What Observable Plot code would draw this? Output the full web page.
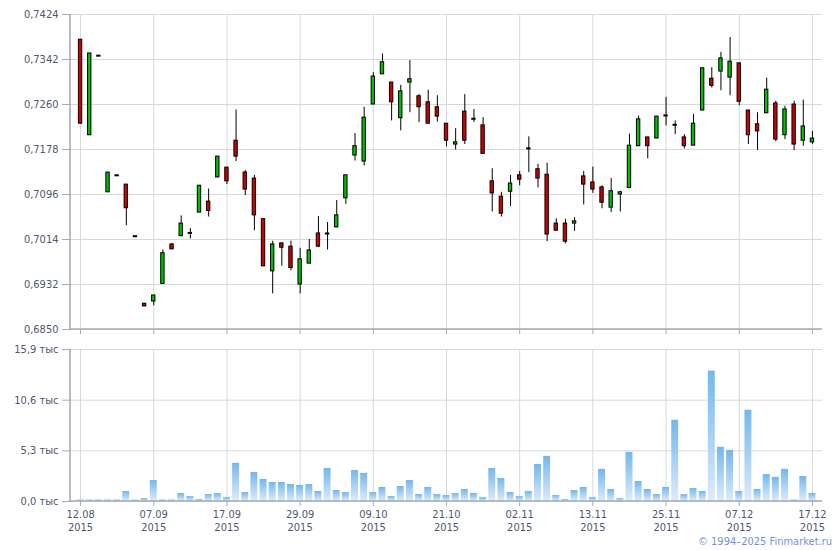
<!DOCTYPE html>
<html>
<head>
<meta charset="utf-8">
<script src="https://cdn.jsdelivr.net/npm/d3@7"></script>
<script src="https://cdn.jsdelivr.net/npm/@observablehq/plot@0.6"></script>
<style>
  html, body { margin: 0; padding: 0; background: #fff; }
  #wrap { position: relative; width: 840px; height: 550px; overflow: hidden; font-family: Tahoma, Verdana, "DejaVu Sans Condensed", "DejaVu Sans", sans-serif; }
  #price { position: absolute; left: 0; top: 0; }
  #volume { position: absolute; left: 0; top: 340px; }
  #copy { position: absolute; right: 8px; top: 535px; font-size: 11px; color: #7392e0; white-space: nowrap; }
</style>
</head>
<body>
<div id="wrap">
  <div id="price"></div>
  <div id="volume"></div>
  <div id="copy">© 1994–2025 Finmarket.ru</div>
</div>
<script>
// Trading days (2015)
const dates = ["12.08","14.08","18.08","20.08","24.08","26.08","28.08","02.09","07.09","08.09",
  "09.09","10.09","11.09","14.09","15.09","16.09","17.09","18.09","21.09","22.09",
  "23.09","24.09","25.09","28.09","29.09","30.09","01.10","02.10","05.10","06.10",
  "07.10","08.10","09.10","12.10","13.10","14.10","15.10","16.10","19.10","20.10",
  "21.10","22.10","23.10","26.10","27.10","28.10","29.10","30.10","02.11","03.11",
  "05.11","06.11","09.11","10.11","11.11","12.11","13.11","16.11","17.11","18.11",
  "19.11","20.11","23.11","24.11","25.11","26.11","27.11","30.11","01.12","02.12",
  "03.12","04.12","07.12","08.12","09.12","10.12","11.12","14.12","15.12","16.12","17.12"];

const open = [0.7378,0.7204,0.7349,0.7100,0.7131,0.7114,0.7020,0.6897,0.6901,0.6933,
  0.7005,0.7020,0.7026,0.7063,0.7083,0.7127,0.7145,0.7194,0.7136,0.7125,
  0.7051,0.6956,0.7007,0.7001,0.6932,0.6970,0.7025,0.7025,0.7036,0.7089,
  0.7167,0.7156,0.7260,0.7315,0.7300,0.7235,0.7300,0.7275,0.7264,0.7255,
  0.7225,0.7187,0.7247,0.7234,0.7222,0.7120,0.7092,0.7101,0.7131,0.7180,
  0.7142,0.7132,0.7043,0.7043,0.7043,0.7129,0.7118,0.7109,0.7072,0.7096,
  0.7108,0.7184,0.7200,0.7198,0.7240,0.7223,0.7200,0.7185,0.7249,0.7307,
  0.7320,0.7309,0.7335,0.7249,0.7224,0.7244,0.7262,0.7204,0.7260,0.7194,0.7191];
const high = [0.7378,0.7353,0.7349,0.7136,0.7131,0.7114,0.7020,0.6897,0.6912,0.6995,
  0.7007,0.7057,0.7034,0.7112,0.7106,0.7165,0.7145,0.7250,0.7140,0.7131,
  0.7051,0.7011,0.7007,0.7011,0.6998,0.7014,0.7056,0.7045,0.7085,0.7131,
  0.7207,0.7255,0.7318,0.7352,0.7300,0.7295,0.7340,0.7278,0.7286,0.7276,
  0.7225,0.7216,0.7278,0.7251,0.7236,0.7143,0.7100,0.7131,0.7138,0.7201,
  0.7151,0.7153,0.7052,0.7051,0.7054,0.7138,0.7146,0.7112,0.7125,0.7102,
  0.7206,0.7239,0.7200,0.7238,0.7273,0.7230,0.7205,0.7242,0.7326,0.7327,
  0.7355,0.7382,0.7335,0.7249,0.7245,0.7308,0.7266,0.7257,0.7266,0.7268,0.7211];
const low = [0.7225,0.7204,0.7349,0.7100,0.7131,0.7039,0.7020,0.6892,0.6893,0.6933,
  0.6996,0.7020,0.7015,0.7063,0.7055,0.7127,0.7114,0.7156,0.7094,0.7030,
  0.6965,0.6915,0.6965,0.6957,0.6915,0.6970,0.6999,0.6995,0.7036,0.7078,
  0.7157,0.7148,0.7260,0.7315,0.7230,0.7212,0.7245,0.7227,0.7225,0.7228,
  0.7183,0.7177,0.7187,0.7227,0.7170,0.7064,0.7055,0.7074,0.7112,0.7136,
  0.7108,0.7010,0.7030,0.7006,0.7029,0.7077,0.7098,0.7070,0.7063,0.7064,
  0.7108,0.7184,0.7161,0.7198,0.7221,0.7205,0.7179,0.7185,0.7249,0.7290,
  0.7285,0.7276,0.7258,0.7187,0.7176,0.7244,0.7192,0.7196,0.7176,0.7184,0.7187];
const close = [0.7225,0.7353,0.7349,0.7136,0.7131,0.7071,0.7020,0.6892,0.6912,0.6989,
  0.6996,0.7043,0.7026,0.7112,0.7066,0.7165,0.7120,0.7165,0.7105,0.7058,
  0.6965,0.7005,0.6999,0.6962,0.6978,0.6994,0.7001,0.7025,0.7058,0.7131,
  0.7184,0.7236,0.7311,0.7337,0.7264,0.7284,0.7306,0.7255,0.7225,0.7238,
  0.7194,0.7191,0.7194,0.7234,0.7170,0.7098,0.7061,0.7116,0.7123,0.7180,
  0.7125,0.7023,0.7030,0.7010,0.7047,0.7114,0.7105,0.7081,0.7102,0.7100,
  0.7185,0.7233,0.7184,0.7238,0.7240,0.7223,0.7184,0.7225,0.7326,0.7294,
  0.7344,0.7338,0.7265,0.7204,0.7211,0.7287,0.7196,0.7251,0.7187,0.7220,0.7198];
// Volume, thousands
const volume = [0.15,0.15,0.15,0.15,0.15,1.05,0.15,0.31,2.20,0.15,
  0.15,0.84,0.52,0.21,0.73,0.84,0.42,3.99,0.94,3.04,
  2.31,1.99,1.99,1.78,1.68,1.78,1.05,3.46,1.15,0.94,
  3.25,2.94,0.94,1.47,0.52,1.57,2.20,0.73,1.47,0.73,
  0.63,0.84,1.26,0.84,0.42,3.46,2.41,0.94,0.52,1.05,
  3.88,4.72,0.63,0.21,1.15,1.47,0.42,3.36,1.26,0.31,
  5.14,2.10,1.26,0.73,1.47,8.50,0.73,1.36,1.05,13.64,
  5.67,5.35,1.05,9.55,1.26,2.83,2.52,3.36,0.15,2.62,0.84];

const tickDates = ["12.08","07.09","17.09","29.09","09.10","21.10","02.11","13.11","25.11","07.12","17.12"];
const priceTicks = [0.6850,0.6932,0.7014,0.7096,0.7178,0.7260,0.7342,0.7424];
const volumeTicks = [0, 5.3, 10.6, 15.9];

const rows = dates.map((d, i) => ({date: d, open: open[i], high: high[i], low: low[i], close: close[i], volume: volume[i]}));
const bodies = rows.filter(r => r.open !== r.close);
const dojis = rows.filter(r => r.open === r.close);

const FONT = 'Tahoma, Verdana, "DejaVu Sans Condensed", "DejaVu Sans", sans-serif';
const GRID = "#d5d9dd";
const AXIS = "#a6aab4";
const TEXT = "#4f5870";

const xScale = {type: "band", domain: dates, paddingInner: 0.24, paddingOuter: 0.72, align: 0.5, round: false};

function axisLines(index, scales, values, dim) {
  const g = d3.create("svg:g").attr("stroke", AXIS).attr("stroke-width", 1.6);
  const l = dim.marginLeft, r = dim.width - dim.marginRight;
  const t = dim.marginTop, b = dim.height - dim.marginBottom;
  g.append("line").attr("x1", l).attr("x2", l).attr("y1", t).attr("y2", b + 0.8);
  g.append("line").attr("x1", l).attr("x2", r).attr("y1", b).attr("y2", b);
  return g.node();
}

const price = Plot.plot({
  width: 840, height: 340,
  marginTop: 14, marginBottom: 11, marginLeft: 70, marginRight: 18,
  style: {fontFamily: FONT, fontSize: "11px", color: TEXT, background: "transparent", overflow: "visible"},
  x: xScale,
  y: {domain: [0.6850, 0.7424]},
  marks: [
    Plot.gridY(priceTicks, {stroke: GRID, strokeOpacity: 1}),
    Plot.gridX(tickDates, {stroke: GRID, strokeOpacity: 1}),
    Plot.axisY({ticks: priceTicks, tickSize: 8, tickPadding: 4, stroke: AXIS, fill: TEXT, label: null,
      tickFormat: d => d.toFixed(4).replace(".", ",")}),
    Plot.axisX({ticks: tickDates, tickSize: 5, stroke: AXIS, label: null, tickFormat: () => ""}),
    axisLines,
    Plot.ruleX(rows, {x: "date", y1: "low", y2: "high", stroke: "#000", strokeWidth: 1}),
    Plot.barY(bodies, {x: "date", y1: "open", y2: "close",
      fill: d => d.close > d.open ? "#00c000" : "#d00000",
      stroke: "#000", strokeWidth: 1, insetLeft: 1.8, insetRight: 1.8}),
    Plot.tickY(dojis, {x: "date", y: "close", stroke: "#000", strokeWidth: 2, insetLeft: 1.3, insetRight: 1.3})
  ]
});
document.getElementById("price").appendChild(price);

function gradientDefs() {
  const defs = d3.create("svg:defs");
  const lg = defs.append("linearGradient").attr("id", "volGrad")
    .attr("x1", 0).attr("y1", 0).attr("x2", 0).attr("y2", 1);
  lg.append("stop").attr("offset", "0%").attr("stop-color", "#72b7ef");
  lg.append("stop").attr("offset", "100%").attr("stop-color", "#dcebfa");
  return defs.node();
}

const vol = Plot.plot({
  width: 840, height: 200,
  marginTop: 9, marginBottom: 39, marginLeft: 70, marginRight: 18,
  style: {fontFamily: FONT, fontSize: "11px", color: TEXT, background: "transparent", overflow: "visible"},
  x: xScale,
  y: {domain: [0, 15.9]},
  marks: [
    gradientDefs,
    Plot.gridY(volumeTicks, {stroke: GRID, strokeOpacity: 1}),
    Plot.gridX(tickDates, {stroke: GRID, strokeOpacity: 1}),
    Plot.axisY({ticks: volumeTicks, tickSize: 8, tickPadding: 4, stroke: AXIS, fill: TEXT, label: null,
      tickFormat: d => d.toFixed(1).replace(".", ",") + " тыс"}),
    Plot.axisX({ticks: tickDates, tickSize: 5, tickPadding: 3, stroke: AXIS, fill: TEXT, lineHeight: 1.15, label: null,
      tickFormat: d => d + "\n2015"}),
    Plot.barY(rows, {x: "date", y: "volume", fill: "url(#volGrad)"}),
    axisLines
  ]
});
document.getElementById("volume").appendChild(vol);
</script>
</body>
</html>
